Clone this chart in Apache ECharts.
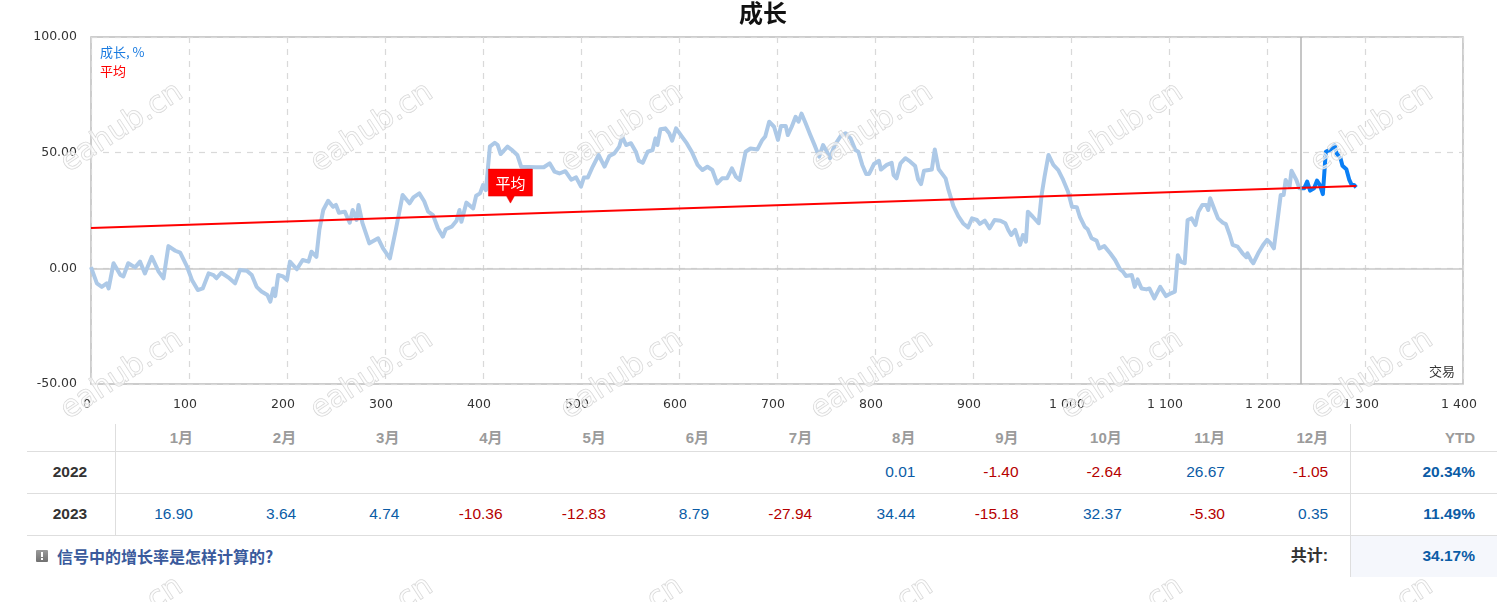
<!DOCTYPE html>
<html>
<head>
<meta charset="utf-8">
<script src="https://cdn.jsdelivr.net/npm/echarts@6/dist/echarts.min.js"></script>
<style>
  html, body { margin:0; padding:0; background:#fff; }
  #page { position:relative; width:1497px; height:602px; overflow:hidden; }
  #chart { position:absolute; left:0; top:0; width:1497px; height:602px; z-index:2; pointer-events:none; }
  #table { position:absolute; left:0; top:0; width:1497px; height:602px; z-index:1; font-family:"Liberation Sans","Noto Sans CJK SC",sans-serif; }
  .c { position:absolute; height:20px; line-height:20px; white-space:nowrap; }
  .hl { position:absolute; height:1px; background:#dedede; }
  .vl { position:absolute; width:1px; background:#dedede; }
</style>
</head>
<body>
<div id="page">
  <div id="table"></div>
  <div id="chart"></div>
</div>
<script>
// ---------- data ----------
const histTrades = [0,1,6,11,16,18,23,30,33,38,45,50,55,62,69,74,79,86,91,98,103,109,114,120,125,128,133,140,147,152,159,164,169,174,180,183,186,188,191,196,200,203,210,216,222,225,230,233,237,242,247,250,253,259,264,267,271,273,277,284,293,298,305,311,318,325,329,335,340,344,349,354,359,362,368,373,376,378,383,390,393,397,400,403,407,412,415,418,425,430,435,439,454,462,468,473,478,484,490,495,500,503,507,512,518,524,529,534,539,542,546,551,556,559,563,568,573,576,578,581,586,590,593,597,603,608,613,619,624,629,634,639,644,649,654,658,662,668,673,680,685,688,692,697,701,704,709,711,715,719,722,725,729,734,739,743,747,751,754,759,765,770,775,780,783,787,791,794,799,804,806,812,817,819,822,826,831,836,841,844,847,850,855,858,861,865,872,875,880,885,890,895,899,904,907,912,917,922,928,933,936,939,943,948,951,954,956,961,967,970,973,977,982,987,992,997,1001,1006,1009,1014,1017,1021,1026,1029,1034,1040,1045,1050,1053,1056,1062,1065,1068,1072,1077,1080,1085,1091,1097,1102,1106,1109,1112,1116,1119,1123,1127,1130,1134,1138,1140,1142,1146,1150,1155,1158,1162,1165,1170,1175,1179,1180,1184,1186,1191,1196,1200,1203,1207,1210,1214,1217,1219,1223,1225,1230,1233,1234];
const histGrowth = [0.5,0,-6.5,-8,-6.5,-8.7,2.2,-2.9,-3.5,2.2,0.4,2.9,-2.2,5,-1.4,-4.3,9.6,7.6,6.8,0.7,-5,-9.4,-8.7,-2.2,-2.9,-4.3,-1.9,-3.9,-6.5,-0.7,-1,-2.9,-8,-10,-11.5,-14.4,-8.7,-12,-2.9,-3.5,-5,2.9,-0.4,3.6,2.9,7.2,5,16.6,25.2,29.2,26.6,27.4,24,24.5,19.7,25.2,20.9,27.4,19.5,10.8,13,8.6,4.3,16.6,31.7,28.1,30.7,32.4,29,24.5,23,17.3,13.7,16.9,18,20.6,25.2,20.1,28.4,25.9,31.4,32.4,36,33.8,52.6,54.3,53.3,49.4,52.6,51,49,43.9,43.7,43.7,45.4,41.8,41,42,38.3,39.3,35.3,39.3,39.3,44,49,44,48.6,49.7,52.6,57,53.3,54.1,50.4,46.5,45.6,50.4,51.1,56.2,53.3,60.1,60.5,58.4,55.2,60.5,56.9,54,50.4,44.7,42.5,43.9,42.5,36.7,38.9,38.9,43.2,39.6,38.2,50.4,51.8,51.4,55.5,57,63.4,61.2,55.5,61.5,61.5,57.6,61.2,65.5,63.4,66.9,62.9,57.6,52.6,48.3,53.3,50.4,47.6,53.3,57.2,58.4,56.2,51.1,50.4,44.7,40.8,40.8,45.1,46.5,42.7,44.7,45.6,40.3,38.9,45.4,47.6,46.1,44.2,38.4,36.4,42.2,42.5,42.7,51.4,42.8,38.9,33.9,26.9,22.6,19.4,17.7,21.6,20.9,19.2,20.6,17.3,20.9,20.6,19.5,16.6,14.4,16.6,10.1,14.4,11.5,24.5,22.3,19.5,31.7,39.6,49,44.7,42.5,38.2,33.1,26.6,26.4,22.3,18,16.9,13,12,8.6,9.6,6.5,3.6,-0.4,-1.4,-3.3,-2.9,-8,-4.8,-8.7,-9.1,-8.7,-13,-8,-12,-10.8,-10.1,5.7,2.9,2.2,20.9,21.6,18.7,24.5,27.4,27.4,25.2,30.3,25.9,21.6,19.7,19.1,14.4,10.1,9.4,6.5,4.8,6.5,3.3,2.2,6.5,10.1,12.3,11.2,8.6,18.3,31.7,31.7,38.2,35.3,42.2,38.2,34.6,34.6];
const recentTrades = [1234,1238,1241,1244,1248,1251,1254,1257,1260,1265,1269,1271,1275,1277,1281,1284,1286,1289,1291];
const recentGrowth = [34.6,34.6,37.5,33.6,34.6,37.9,36,32.1,50.4,51.4,53.3,49.7,47.6,44.3,42.8,38.2,36.4,36,35];
const avgTrades = [0, 1291];
const avgValues = [17.4, 35.6];
const avgLabelTrade = 428;
const splitTrade = 1234;

const months = ['1月','2月','3月','4月','5月','6月','7月','8月','9月','10月','11月','12月'];
const years = ['2022','2023'];
const row2022 = [null,null,null,null,null,null,null,0.01,-1.40,-2.64,26.67,-1.05];
const row2023 = [16.90,3.64,4.74,-10.36,-12.83,8.79,-27.94,34.44,-15.18,32.37,-5.30,0.35];
const ytdValues = ['20.34%','11.49%'];
const totalValue = '34.17%';

// ---------- table ----------
(function buildTable(){
  const t = document.getElementById('table');
  let h = '';
  const line = (cls, l, tp, w, ht) => `<div class="${cls}" style="left:${l}px;top:${tp}px;${w!=null?'width:'+w+'px;':''}${ht!=null?'height:'+ht+'px;':''}"></div>`;
  h += `<div style="position:absolute;left:1351px;top:536px;width:146px;height:41px;background:#f5f7fc;"></div>`;
  h += line('hl',27,451,1470,null);
  h += line('hl',27,493,1470,null);
  h += line('hl',27,535,1470,null);
  h += line('vl',115,424,null,111);
  h += line('vl',1350,424,null,153);
  const rightEdge = i => 193 + 103.2*i;
  const cell = (txt, right, cy, style) => `<div class="c" style="left:${right-120}px;width:120px;text-align:right;top:${cy-10}px;${style}">${txt}</div>`;
  const hdrStyle = 'font-weight:bold;color:#9b9b9b;font-size:15px;';
  months.forEach((m,i)=>{ h += cell(m, rightEdge(i), 438, hdrStyle); });
  h += cell('YTD', 1475, 438, hdrStyle);
  const rows = [row2022, row2023];
  const cys = [472, 514];
  rows.forEach((r,ri)=>{
    h += `<div class="c" style="left:30px;width:80px;text-align:center;top:${cys[ri]-10}px;font-weight:bold;color:#333;font-size:15.5px;">${years[ri]}</div>`;
    r.forEach((v,i)=>{
      if (v === null) return;
      const col = v < 0 ? '#b50000' : '#0b5ca6';
      h += cell(v.toFixed(2), rightEdge(i), cys[ri], `color:${col};font-size:15.5px;`);
    });
    h += cell(ytdValues[ri], 1475, cys[ri], 'font-weight:bold;color:#0b5ca6;font-size:15.5px;');
  });
  h += cell('共计:', 1328, 556, 'font-weight:bold;color:#333;font-size:16px;');
  h += cell(totalValue, 1475, 556, 'font-weight:bold;color:#0b5ca6;font-size:15.5px;');
  h += `<div style="position:absolute;left:36px;top:550px;width:12px;height:12px;background:linear-gradient(#9a9a9a,#707070);border-radius:1px;"><div style="position:absolute;left:5px;top:2px;width:2px;height:5px;background:#fff;"></div><div style="position:absolute;left:5px;top:8px;width:2px;height:2px;background:#fff;"></div></div>`;
  h += `<div class="c" style="left:57px;top:546px;font-weight:bold;color:#3a5a9c;font-size:16px;font-family:'Noto Sans CJK SC','Liberation Sans',sans-serif;">信号中的增长率是怎样计算的?</div>`;
  t.innerHTML = h;
})();

// ---------- chart ----------
const chart = echarts.init(document.getElementById('chart'), null, {renderer:'canvas'});
const histData = histTrades.map((t,i)=>[t, histGrowth[i]]);
const recentData = recentTrades.map((t,i)=>[t, recentGrowth[i]]);
const avgData = avgTrades.map((t,i)=>[t, avgValues[i]]);
const avgAt = x => avgValues[0] + (avgValues[1]-avgValues[0]) * (x - avgTrades[0]) / (avgTrades[1]-avgTrades[0]);

const fmtThousands = v => v >= 1000 ? Math.floor(v/1000) + ' ' + String(v % 1000).padStart(3,'0') : String(v);

const watermarks = [];
for (let j = 0; j < 3; j++) {
  for (let i = 0; i < 6; i++) {
    watermarks.push({
      type:'text', x: 122 + 250*i, y: 128 + 247*j, rotation: 0.58, z: 100, silent:true,
      style:{ text:'eahub.cn', x:0, y:0, align:'center', verticalAlign:'middle',
        font:'30px "DejaVu Sans"', fill:'rgba(255,255,255,0.6)', stroke:'#d2d2d2', lineWidth:1 }
    });
  }
}

const option = {
  animation:false,
  backgroundColor:'transparent',
  grid:{ left:91, top:37, width:1372, height:347, show:true, borderColor:'#bcbcbc', borderWidth:1.5, backgroundColor:'transparent' },
  xAxis:{
    type:'value', min:0, max:1400, interval:100,
    axisLine:{show:false}, axisTick:{show:false},
    axisLabel:{ color:'#333', fontFamily:'DejaVu Sans', fontSize:12.5, margin:14, padding:[0,8,0,0], formatter: fmtThousands },
    splitLine:{ show:true, lineStyle:{ color:'#d9d9d9', type:[6,6], width:1.2 } }
  },
  yAxis:{
    type:'value', min:-50, max:100, interval:50,
    axisLine:{show:false}, axisTick:{show:false},
    axisLabel:{ color:'#333', fontFamily:'DejaVu Sans', fontSize:12.5, margin:14, padding:[4,0,0,0], formatter: v => v.toFixed(2) },
    splitLine:{ show:true, lineStyle:{ color:'#d9d9d9', type:[6,6], width:1.2 } }
  },
  series:[
    {
      name:'成长', type:'line', data:histData, showSymbol:false, z:2,
      lineStyle:{ color:'#adc9e7', width:4, join:'round' },
      markLine:{ silent:true, symbol:'none', label:{show:false}, z:1,
        lineStyle:{ color:'#c9c9c9', type:'solid', width:1.5 },
        data:[{ yAxis:0 }] }
    },
    {
      name:'成长近期', type:'line', data:recentData, showSymbol:false, z:3,
      lineStyle:{ color:'#0a7ff5', width:4, join:'round' },
      markLine:{ silent:true, symbol:'none', label:{show:false},
        lineStyle:{ color:'#b3b3b3', type:'solid', width:1.5 },
        data:[{ xAxis:splitTrade }] }
    },
    {
      name:'平均', type:'line', data:avgData, showSymbol:false, z:4,
      lineStyle:{ color:'#ff0000', width:2 },
      markPoint:{
        silent:true,
        symbol:'path://M0 0H44V27H26L22 34L18 27H0Z',
        symbolSize:[44,34], symbolKeepAspect:false, symbolOffset:[0,-28],
        itemStyle:{ color:'#ff0000', borderColor:'#e00000', borderWidth:0.5 },
        label:{ show:true, formatter:'平均', color:'#fff', fontSize:15, fontFamily:'Noto Sans CJK SC', position:'inside', offset:[0,-3] },
        data:[{ coord:[avgLabelTrade, avgAt(avgLabelTrade)] }]
      }
    }
  ],
  graphic:[
    { type:'text', x:763, y:13, z:50, silent:true,
      style:{ text:'成长', align:'center', verticalAlign:'middle', font:'bold 24px "Noto Sans CJK SC"', fill:'#111' } },
    { type:'text', x:100, y:52, z:50, silent:true,
      style:{ text:'成长, %', align:'left', verticalAlign:'middle', font:'13px "Noto Sans CJK SC"', fill:'#1a7be0' } },
    { type:'text', x:100, y:71, z:50, silent:true,
      style:{ text:'平均', align:'left', verticalAlign:'middle', font:'13px "Noto Sans CJK SC"', fill:'#ff0000' } },
    { type:'text', x:1455, y:371, z:50, silent:true,
      style:{ text:'交易', align:'right', verticalAlign:'middle', font:'13px "Noto Sans CJK SC"', fill:'#333' } },
    ...watermarks
  ]
};
chart.setOption(option);
</script>
</body>
</html>
